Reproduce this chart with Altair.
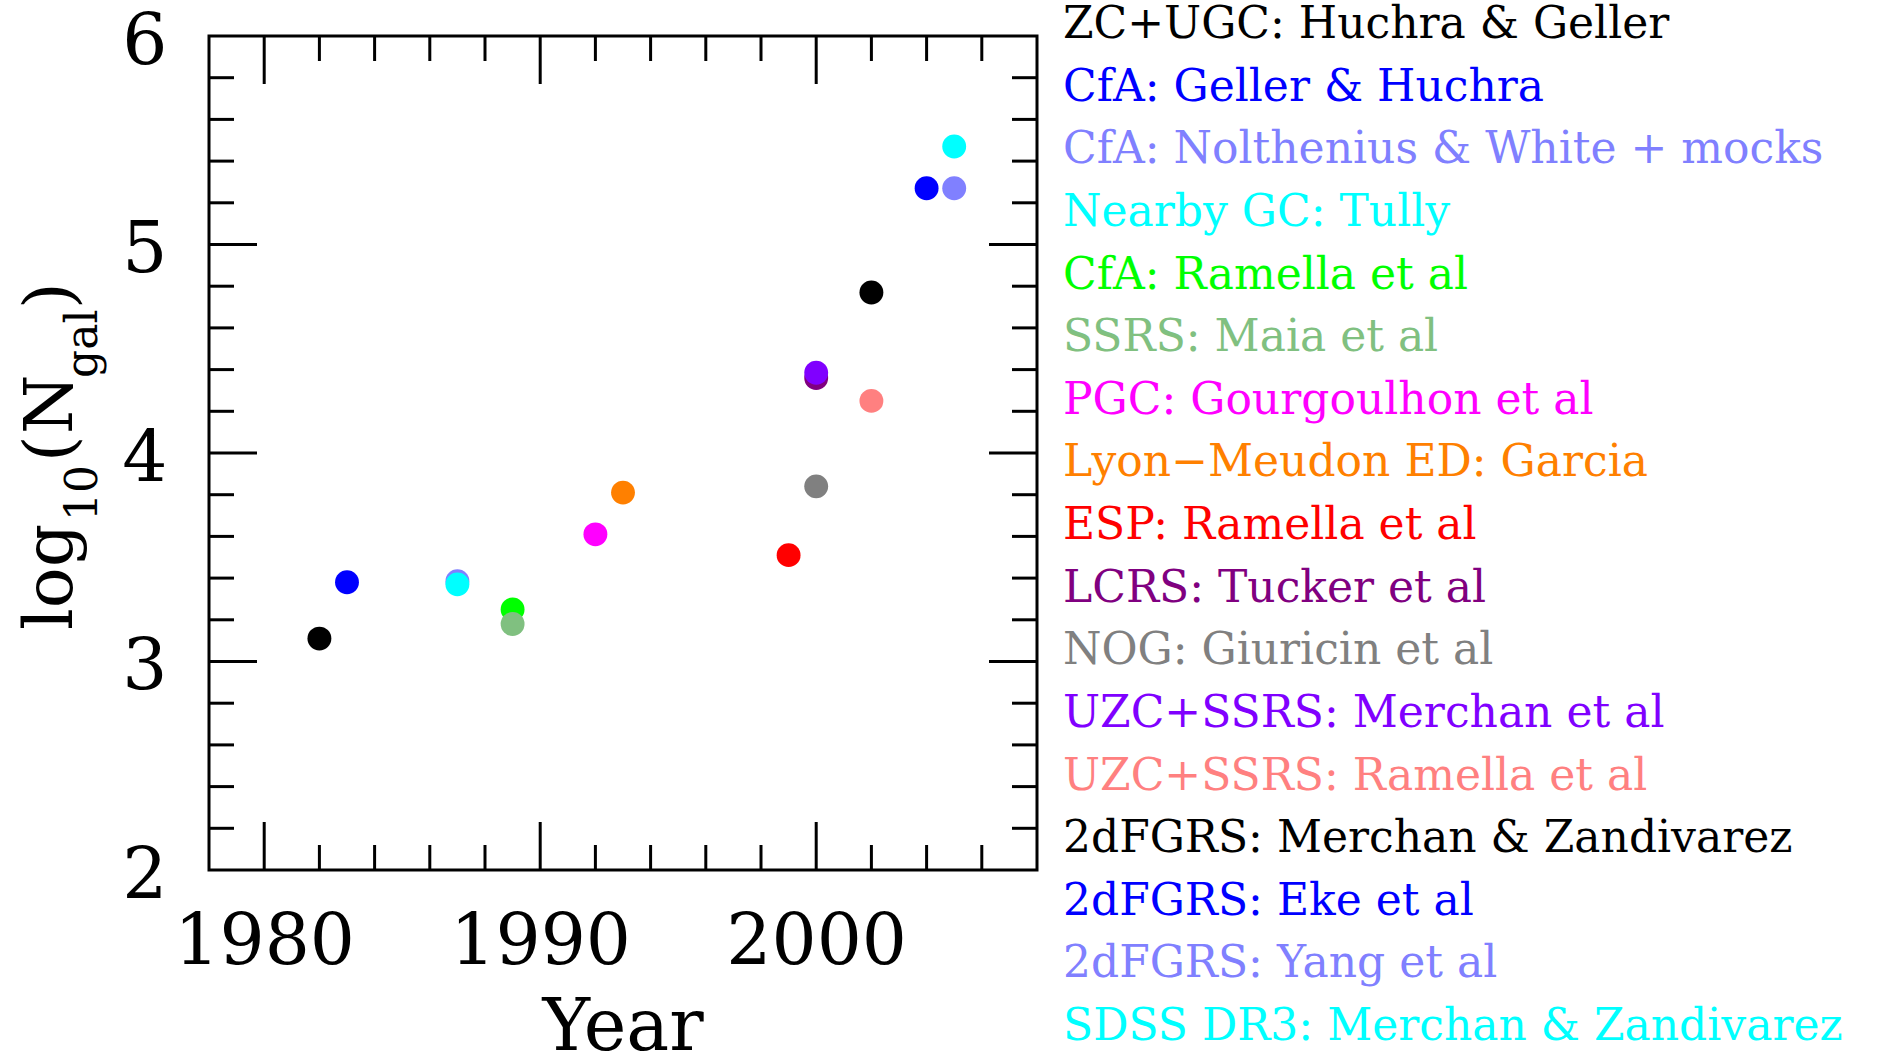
import altair as alt
import pandas as pd

FONT = "DejaVu Serif"

# Group catalogues, year of publication and log10 of the number of galaxies
labels = [
    "ZC+UGC: Huchra & Geller",
    "CfA: Geller & Huchra",
    "CfA: Nolthenius & White + mocks",
    "Nearby GC: Tully",
    "CfA: Ramella et al",
    "SSRS: Maia et al",
    "PGC: Gourgoulhon et al",
    "Lyon\u2212Meudon ED: Garcia",
    "ESP: Ramella et al",
    "LCRS: Tucker et al",
    "NOG: Giuricin et al",
    "UZC+SSRS: Merchan et al",
    "UZC+SSRS: Ramella et al",
    "2dFGRS: Merchan & Zandivarez",
    "2dFGRS: Eke et al",
    "2dFGRS: Yang et al",
    "SDSS DR3: Merchan & Zandivarez",
]
colors = [
    "#000000", "#0000ff", "#8080ff", "#00ffff", "#00ff00", "#80c080",
    "#ff00ff", "#ff8000", "#ff0000", "#800080", "#808080", "#8000ff",
    "#ff8080", "#000000", "#0000ff", "#8080ff", "#00ffff",
]
years = [1982, 1983, 1987, 1987, 1989, 1989, 1992, 1993, 1999, 2000,
         2000, 2000, 2002, 2002, 2004, 2005, 2005]
log_ngal = [3.11, 3.38, 3.385, 3.37, 3.25, 3.18, 3.61, 3.81, 3.51, 4.36,
            3.84, 4.385, 4.25, 4.77, 5.27, 5.27, 5.47]

# Axis ticks and tick labels
x_labels = [1980, 1990, 2000]
x_minor = [1982, 1984, 1986, 1988, 1992, 1994, 1996, 1998, 2002, 2004, 2006]
y_labels = [2, 3, 4, 5, 6]
y_major = [3, 4, 5]
y_minor = [2.2, 2.4, 2.6, 2.8, 3.2, 3.4, 3.6, 3.8, 4.2, 4.4, 4.6, 4.8,
           5.2, 5.4, 5.6, 5.8]

W, H = 828, 834
MAJOR, MINOR = 48, 25

xs = alt.Scale(domain=[1978, 2008], nice=False, zero=False)
ys = alt.Scale(domain=[2, 6], nice=False, zero=False)
color_scale = alt.Scale(domain=labels, range=colors)

x_axis = alt.Axis(
    values=x_labels, format="d", ticks=False, tickSize=0, domain=False,
    grid=False, labelFont=FONT, labelFontSize=71, labelColor="black",
    labelPadding=37, labelFlush=False, labelLimit=0, labelOverlap=False,
    title=None)
y_axis = alt.Axis(
    values=y_labels, format="d", ticks=False, tickSize=0, domain=False,
    grid=False, labelFont=FONT, labelFontSize=71, labelColor="black",
    labelPadding=42, labelOffset=6, labelFlush=False, labelLimit=0,
    labelOverlap=False, title=None)

pts = pd.DataFrame({"label": labels, "year": years, "logN": log_ngal})

points = alt.Chart(pts).mark_circle(size=570, opacity=1).encode(
    x=alt.X("year:Q", scale=xs, axis=x_axis),
    y=alt.Y("logN:Q", scale=ys, axis=y_axis),
    color=alt.Color("label:N", scale=color_scale, legend=None),
)


def x_ticks(values, length):
    base = alt.Chart(pd.DataFrame({"year": values})).mark_rule(
        color="black", strokeWidth=3)
    bottom = base.encode(x=alt.X("year:Q", scale=xs, axis=x_axis),
                         y=alt.value(H), y2=alt.value(H - length))
    top = base.encode(x=alt.X("year:Q", scale=xs, axis=x_axis),
                      y=alt.value(0), y2=alt.value(length))
    return [bottom, top]


def y_ticks(values, length):
    base = alt.Chart(pd.DataFrame({"logN": values})).mark_rule(
        color="black", strokeWidth=3)
    left = base.encode(y=alt.Y("logN:Q", scale=ys, axis=None),
                       x=alt.value(0), x2=alt.value(length))
    right = base.encode(y=alt.Y("logN:Q", scale=ys, axis=None),
                        x=alt.value(W), x2=alt.value(W - length))
    return [left, right]


ticks = (x_ticks(x_labels, MAJOR) + x_ticks(x_minor, MINOR)
         + y_ticks(y_major, MAJOR) + y_ticks(y_minor, MINOR))

# Coloured catalogue list to the right of the frame
legend = alt.Chart(pd.DataFrame({"label": labels})).mark_text(
    align="left", baseline="middle", font=FONT, fontSize=44
).encode(
    x=alt.value(854),
    y=alt.Y("label:N", sort=labels, axis=None,
            scale=alt.Scale(type="point", domain=labels, range=[-11, 991],
                            padding=0)),
    text="label:N",
    color=alt.Color("label:N", scale=color_scale, legend=None),
)

x_title = alt.Chart(pd.DataFrame({"t": ["Year"]})).mark_text(
    align="center", baseline="alphabetic", font=FONT, fontSize=72,
    color="black"
).encode(x=alt.value(W / 2), y=alt.value(1014), text="t:N")


def y_title_piece(txt, size, along, across):
    return alt.Chart(pd.DataFrame({"t": [txt]})).mark_text(
        align="left", baseline="alphabetic", angle=270, font=FONT,
        fontSize=size, color="black"
    ).encode(x=alt.value(across), y=alt.value(along), text="t:N")


y_title = [
    y_title_piece("log", 68, 594, -137),
    y_title_piece("10", 44, 485, -112),
    y_title_piece("(", 68, 426, -137),
    y_title_piece("N", 68, 398, -137),
    y_title_piece("gal", 44, 342, -112),
    y_title_piece(")", 68, 273, -137),
]

chart = alt.layer(
    points, *ticks, legend, x_title, *y_title
).resolve_scale(
    y="independent"
).properties(
    width=W, height=H,
    autosize=alt.AutoSizeParams(type="none"),
    padding={"left": 209, "top": 36, "right": 844, "bottom": 186},
    background="white",
).configure_view(stroke="black", strokeWidth=3)

chart.save("out.html", embed_options={"renderer": "svg", "actions": False})
